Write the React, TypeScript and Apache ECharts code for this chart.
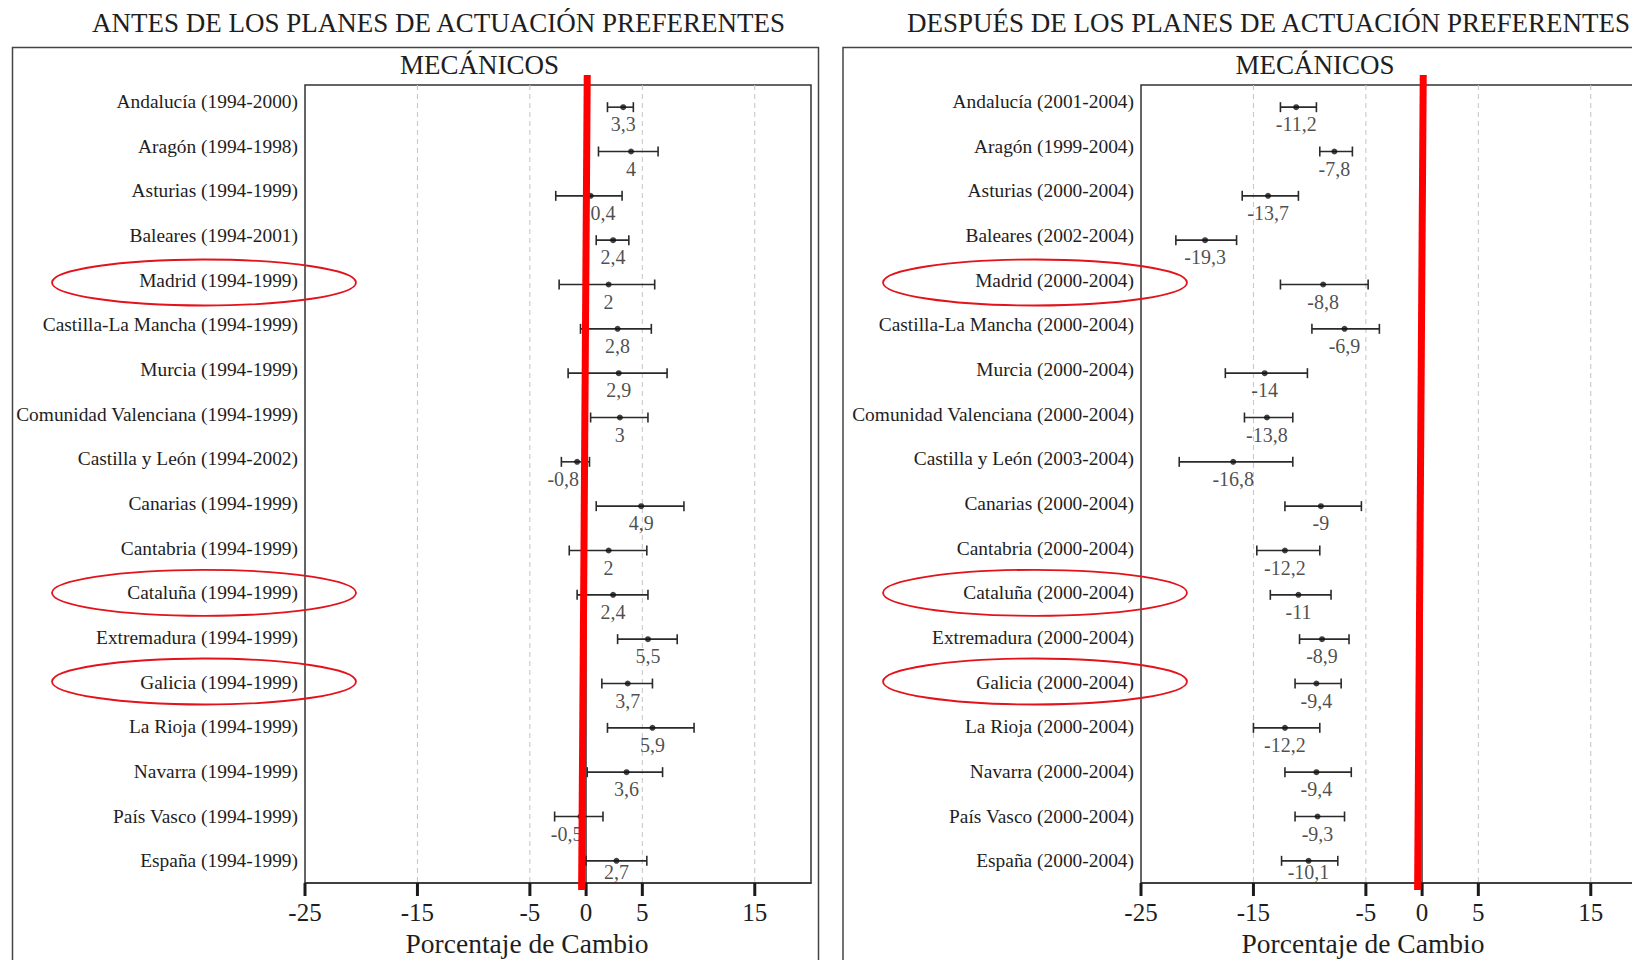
import React, { useEffect, useRef } from "react";
import * as echarts from "echarts";

// ---------- DATA ----------
const categoriesBefore = [
  "Andalucía (1994-2000)", "Aragón (1994-1998)", "Asturias (1994-1999)", "Baleares (1994-2001)",
  "Madrid (1994-1999)", "Castilla-La Mancha (1994-1999)", "Murcia (1994-1999)",
  "Comunidad Valenciana (1994-1999)", "Castilla y León (1994-2002)", "Canarias (1994-1999)",
  "Cantabria (1994-1999)", "Cataluña (1994-1999)", "Extremadura (1994-1999)", "Galicia (1994-1999)",
  "La Rioja (1994-1999)", "Navarra (1994-1999)", "País Vasco (1994-1999)", "España (1994-1999)",
];
const estimateBefore = [3.3, 4, 0.4, 2.4, 2, 2.8, 2.9, 3, -0.8, 4.9, 2, 2.4, 5.5, 3.7, 5.9, 3.6, -0.5, 2.7];
const lowBefore = [1.9, 1.1, -2.7, 0.9, -2.4, -0.5, -1.6, 0.4, -2.2, 0.9, -1.5, -0.8, 2.8, 1.4, 1.9, 0.1, -2.8, 0];
const highBefore = [4.2, 6.4, 3.2, 3.8, 6.1, 5.8, 7.2, 5.5, 0.3, 8.7, 5.4, 5.5, 8.1, 5.9, 9.6, 6.8, 1.5, 5.4];

const categoriesAfter = [
  "Andalucía (2001-2004)", "Aragón (1999-2004)", "Asturias (2000-2004)", "Baleares (2002-2004)",
  "Madrid (2000-2004)", "Castilla-La Mancha (2000-2004)", "Murcia (2000-2004)",
  "Comunidad Valenciana (2000-2004)", "Castilla y León (2003-2004)", "Canarias (2000-2004)",
  "Cantabria (2000-2004)", "Cataluña (2000-2004)", "Extremadura (2000-2004)", "Galicia (2000-2004)",
  "La Rioja (2000-2004)", "Navarra (2000-2004)", "País Vasco (2000-2004)", "España (2000-2004)",
];
const estimateAfter = [-11.2, -7.8, -13.7, -19.3, -8.8, -6.9, -14, -13.8, -16.8, -9, -12.2, -11, -8.9, -9.4, -12.2, -9.4, -9.3, -10.1];
const lowAfter = [-12.6, -9.1, -16.0, -21.9, -12.6, -9.8, -17.5, -15.8, -21.6, -12.2, -14.7, -13.5, -10.9, -11.3, -15.0, -12.2, -11.3, -12.5];
const highAfter = [-9.4, -6.2, -11.0, -16.5, -4.8, -3.8, -10.2, -11.5, -11.5, -5.4, -9.1, -8.1, -6.5, -7.2, -9.1, -6.3, -6.9, -7.5];

const highlighted = ["Madrid", "Cataluña", "Galicia"];
const tickValues = [-25, -15, -5, 0, 5, 15];
const gridValues = [-15, -5, 5, 15];
const axisMin = -25;
const axisMax = 20;
const axisStep = 5;
const redLineEnds = [0.1, -0.4]; // value at top, value at bottom

const titleBefore = "ANTES DE LOS PLANES DE ACTUACIÓN PREFERENTES";
const titleAfter = "DESPUÉS DE LOS PLANES DE ACTUACIÓN PREFERENTES";
const subTitle = "MECÁNICOS";
const axisName = "Porcentaje de Cambio";

// ---------- STYLE ----------
const FONT = "'Liberation Serif', 'DejaVu Serif', 'Times New Roman', serif";
const TEXT = "#1e1e1e";
const fmt = (v: number) => String(v).replace(".", ",");

function buildPanel(
  gi: number,
  cats: string[],
  est: number[],
  low: number[],
  high: number[],
  ellipseOffset: number
) {
  const last = cats.length - 1;
  const hiIdx = cats
    .map((c, i) => (highlighted.some((h) => c.startsWith(h)) ? i : -1))
    .filter((i) => i >= 0);

  const xAxis = {
    type: "value",
    gridIndex: gi,
    min: axisMin,
    max: axisMax,
    interval: axisStep,
    axisLine: { show: true, onZero: false, lineStyle: { color: "#333", width: 1.5 } },
    axisTick: { show: false },
    axisLabel: {
      margin: 17,
      fontSize: 25,
      fontFamily: FONT,
      color: TEXT,
      formatter: (v: number) => (tickValues.indexOf(v) >= 0 ? String(v) : ""),
    },
    splitLine: { show: false },
    name: axisName,
    nameLocation: "middle",
    nameGap: 43,
    nameTextStyle: { fontSize: 27.5, fontFamily: FONT, color: TEXT, padding: [0, 62, 0, 0] },
  };
  const yAxis = {
    type: "category",
    gridIndex: gi,
    inverse: true,
    data: cats,
    axisLine: { show: true, lineStyle: { color: "#333", width: 1.5 } },
    axisTick: { show: false },
    axisLabel: { show: false },
    splitLine: { show: false },
  };

  const series: any[] = [
    // category labels (drift slightly above their rows towards the top, as in the original)
    {
      type: "custom",
      xAxisIndex: gi,
      yAxisIndex: gi,
      silent: true,
      clip: false,
      data: cats.map((_, i) => [axisMin, i]),
      renderItem: (params: any, api: any) => {
        const cs = params.coordSys;
        const i = api.value(1);
        const y = api.coord([api.value(0), i])[1];
        const shift = (5.5 * (last - i)) / last;
        return {
          type: "text",
          x: cs.x - 7,
          y: y - shift,
          style: {
            text: cats[i],
            textAlign: "right",
            textVerticalAlign: "middle",
            fontSize: 19.4,
            fontFamily: FONT,
            fill: TEXT,
          },
        };
      },
      z: 2,
    },
    // dashed vertical grid lines
    {
      type: "custom",
      xAxisIndex: gi,
      yAxisIndex: gi,
      silent: true,
      data: gridValues.map((v) => [v, 0]),
      renderItem: (params: any, api: any) => {
        const cs = params.coordSys;
        const x = api.coord([api.value(0), 0])[0];
        return {
          type: "line",
          shape: { x1: x, y1: cs.y, x2: x, y2: cs.y + cs.height },
          style: { stroke: "#c4c4c4", lineWidth: 1, lineDash: [5, 4] },
        };
      },
      z: 1,
    },
    // thick axis ticks
    {
      type: "custom",
      xAxisIndex: gi,
      yAxisIndex: gi,
      silent: true,
      clip: false,
      data: tickValues.map((v) => [v, 0]),
      renderItem: (params: any, api: any) => {
        const cs = params.coordSys;
        const x = api.coord([api.value(0), 0])[0];
        const yb = cs.y + cs.height;
        return {
          type: "line",
          shape: { x1: x, y1: yb, x2: x, y2: yb + 13 },
          style: { stroke: "#1a1a1a", lineWidth: 3 },
        };
      },
      z: 2,
    },
    // error bars
    {
      type: "custom",
      xAxisIndex: gi,
      yAxisIndex: gi,
      data: cats.map((_, i) => [low[i], i, high[i]]),
      renderItem: (params: any, api: any) => {
        const a = api.coord([api.value(0), api.value(1)]);
        const b = api.coord([api.value(2), api.value(1)]);
        const cap = 5;
        const st = { stroke: "#2a2a2a", lineWidth: 1.6 };
        return {
          type: "group",
          children: [
            { type: "line", shape: { x1: a[0], y1: a[1], x2: b[0], y2: b[1] }, style: st },
            { type: "line", shape: { x1: a[0], y1: a[1] - cap, x2: a[0], y2: a[1] + cap }, style: st },
            { type: "line", shape: { x1: b[0], y1: b[1] - cap, x2: b[0], y2: b[1] + cap }, style: st },
          ],
        };
      },
      z: 3,
    },
    // point estimates with value labels
    {
      type: "scatter",
      xAxisIndex: gi,
      yAxisIndex: gi,
      symbol: "circle",
      symbolSize: 6,
      itemStyle: { color: "#111" },
      data: est.map((v, i) => {
        const nearZero = Math.abs(v) < 1;
        return {
          value: [v, i],
          label: {
            distance: i === last ? -2 : 4,
            // labels close to the zero line are pushed away from it
            align: nearZero ? (v < 0 ? "right" : "left") : "center",
            offset: nearZero ? [v < 0 ? 2 : 0, 0] : [0, 0],
          },
        };
      }),
      label: {
        show: true,
        position: "bottom",
        distance: 4,
        formatter: (p: any) => fmt(p.value[0]),
        fontSize: 20,
        fontFamily: FONT,
        color: TEXT,
      },
      z: 4,
    },
    // red reference line at zero
    {
      type: "custom",
      xAxisIndex: gi,
      yAxisIndex: gi,
      silent: true,
      clip: false,
      data: [[redLineEnds[0], 0, redLineEnds[1]]],
      renderItem: (params: any, api: any) => {
        const cs = params.coordSys;
        const xt = api.coord([api.value(0), 0])[0];
        const xb = api.coord([api.value(2), 0])[0];
        return {
          type: "line",
          shape: { x1: xt, y1: cs.y - 10, x2: xb, y2: cs.y + cs.height + 7 },
          style: { stroke: "#ff0000", lineWidth: 7 },
        };
      },
      z: 10,
    },
    // red ellipses round highlighted regions
    {
      type: "custom",
      xAxisIndex: gi,
      yAxisIndex: gi,
      silent: true,
      clip: false,
      data: hiIdx.map((i) => [axisMin, i]),
      renderItem: (params: any, api: any) => {
        const cs = params.coordSys;
        const y = api.coord([api.value(0), api.value(1)])[1];
        return {
          type: "ellipse",
          shape: { cx: cs.x - ellipseOffset, cy: y - 2, rx: 152, ry: 23 },
          style: { fill: "none", stroke: "#e3121b", lineWidth: 1.8 },
        };
      },
      z: 5,
    },
  ];
  return { xAxis, yAxis, series };
}

export default function App() {
  const ref = useRef<HTMLDivElement>(null);
  useEffect(() => {
    if (!ref.current) return;
    const chart = echarts.init(ref.current, null, { renderer: "svg" });
    const p1 = buildPanel(0, categoriesBefore, estimateBefore, lowBefore, highBefore, 101);
    const p2 = buildPanel(1, categoriesAfter, estimateAfter, lowAfter, highAfter, 106);
    const gridStyle = {
      show: true,
      borderColor: "#333",
      borderWidth: 1.5,
      backgroundColor: "transparent",
      containLabel: false,
      outerBoundsMode: "none",
    };
    const option: any = {
      animation: false,
      backgroundColor: "#ffffff",
      grid: [
        { left: 305, top: 85, width: 506, height: 798, ...gridStyle },
        { left: 1141, top: 85, width: 506, height: 798, ...gridStyle },
      ],
      xAxis: [p1.xAxis, p2.xAxis],
      yAxis: [p1.yAxis, p2.yAxis],
      series: [...p1.series, ...p2.series],
      graphic: [
        { type: "rect", shape: { x: 12.5, y: 47.5, width: 806, height: 960 }, style: { fill: "none", stroke: "#444", lineWidth: 1.5 }, z: 0 },
        { type: "rect", shape: { x: 843, y: 47.5, width: 900, height: 960 }, style: { fill: "none", stroke: "#444", lineWidth: 1.5 }, z: 0 },
        { type: "text", x: 92, y: 23, style: { text: titleBefore, fontSize: 27, fontFamily: FONT, fill: TEXT, textAlign: "left", textVerticalAlign: "middle" } },
        { type: "text", x: 907, y: 23, style: { text: titleAfter, fontSize: 27, fontFamily: FONT, fill: TEXT, textAlign: "left", textVerticalAlign: "middle" } },
        { type: "text", x: 479.5, y: 65, style: { text: subTitle, fontSize: 27, fontFamily: FONT, fill: TEXT, textAlign: "center", textVerticalAlign: "middle" } },
        { type: "text", x: 1315, y: 65, style: { text: subTitle, fontSize: 27, fontFamily: FONT, fill: TEXT, textAlign: "center", textVerticalAlign: "middle" } },
      ],
    };
    chart.setOption(option);
    return () => chart.dispose();
  }, []);
  return (
    <div
      style={{ position: "absolute", left: 0, top: 0, width: 1632, height: 960, overflow: "hidden", background: "#fff" }}
    >
      <div ref={ref} style={{ width: 1700, height: 960 }} />
    </div>
  );
}
